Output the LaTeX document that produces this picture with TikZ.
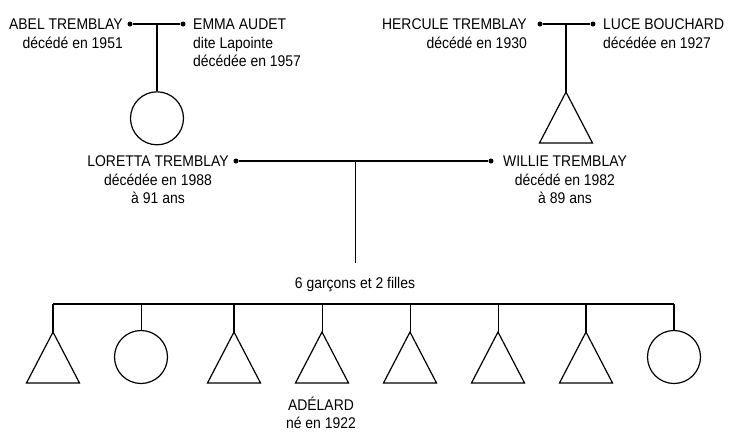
\documentclass[tikz,border=0pt]{standalone}
\usepackage{fontspec}
\setmainfont[FakeStretch=0.9]{Liberation Sans}
\begin{document}
\begin{tikzpicture}[x=1pt,y=-1pt,
  lbl/.style={font=\fontsize{15.5}{18.5}\selectfont, inner sep=0pt},
  dot/.style={circle, fill=black, inner sep=0pt, minimum size=5pt},
  fem/.style={circle, draw=black, line width=1.2pt, inner sep=0pt, minimum size=53pt},
  shp/.style={draw=black, line width=1.2pt, line join=miter},
  link/.style={draw=black, line width=1.6pt},
  thinlink/.style={draw=black, line width=0.8pt}]
\useasboundingbox (0,0) rectangle (734,440);

% ---- grandparents, left
\node[dot] (abeld) at (130,24) {};
\node[dot] (emmad) at (183,24) {};
\node[lbl, anchor=base east, align=right] (abel) at (123,48) {ABEL TREMBLAY\\décédé en 1951};
\node[lbl, anchor=base west, align=left] (emma) at (193,66.5) {EMMA AUDET\\dite Lapointe\\décédée en 1957};
\node[fem] (loretta) at (157,118.3) {};
\coordinate (j1) at (157,24);
\draw[link] (abeld) -- (emmad);
\draw[link] (j1) -- (loretta.north);

% ---- grandparents, right
\node[dot] (hercd) at (540,24) {};
\node[dot] (luced) at (593,24) {};
\node[lbl, anchor=base east, align=right] (hercule) at (527,48) {HERCULE TREMBLAY\\décédé en 1930};
\node[lbl, anchor=base west, align=left] (luce) at (603,48) {LUCE BOUCHARD\\décédée en 1927};
\coordinate (willie) at (566,92);
\draw[shp] (willie) -- ++(-26.5,51) -- ++(53,0) -- cycle;
\coordinate (j2) at (566,24);
\draw[link] (hercd) -- (luced);
\draw[link] (j2) -- (willie);

% ---- parents
\node[dot] (lord) at (236,161) {};
\node[dot] (wild) at (491,161) {};
\node[lbl, anchor=base, align=center] (lorettatxt) at (158,203.5) {LORETTA TREMBLAY\\décédée en 1988\\à 91 ans};
\node[lbl, anchor=base, align=center] (willietxt) at (565,203.5) {WILLIE TREMBLAY\\décédé en 1982\\à 89 ans};
\coordinate (j3) at (355,161);
\coordinate (j4) at (355,263);
\draw[link] (lord) -- (wild);
\draw[thinlink] (j3) -- (j4);
\node[lbl, anchor=base] (enfants) at (355,288) {6 garçons et 2 filles};

% ---- children
\coordinate (barL) at (53,304);
\coordinate (barR) at (674,304);
\draw[link] (barL) -- (barR);

\coordinate (c1) at (53,332);
\node[fem] (c2) at (141,357) {};
\coordinate (c3) at (234,332);
\coordinate (c4) at (322,332);
\coordinate (c5) at (410,332);
\coordinate (c6) at (498,332);
\coordinate (c7) at (586,332);
\node[fem] (c8) at (674,357) {};

\foreach \c in {c1,c3,c4,c5,c6,c7}
  \draw[shp] (\c) -- ++(-26.5,51) -- ++(53,0) -- cycle;

\draw[link] (barL) -- (c1);
\draw[thinlink] (c2.north |- barL) -- (c2.north);
\draw[link] (c3 |- barL) -- (c3);
\draw[thinlink] (c4 |- barL) -- (c4);
\draw[thinlink] (c5 |- barL) -- (c5);
\draw[thinlink] (c6 |- barL) -- (c6);
\draw[link] (c7 |- barL) -- (c7);
\draw[link] (barR) -- (c8.north);

\node[lbl, anchor=base, align=center] (adelard) at (321,428.5) {ADÉLARD\\né en 1922};
\end{tikzpicture}
\end{document}
